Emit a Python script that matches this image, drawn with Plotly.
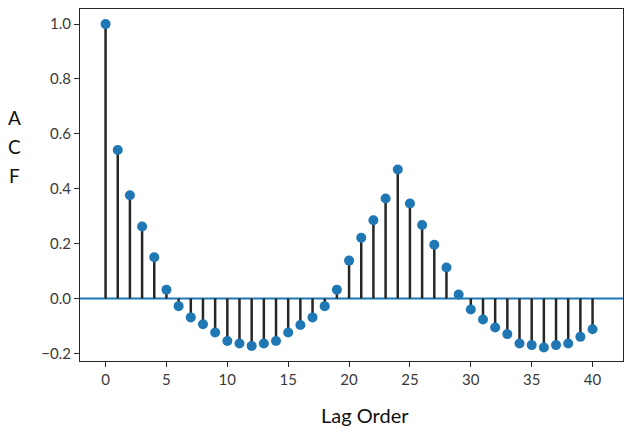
import plotly.graph_objects as go

lags = list(range(41))
acf = [1.0, 0.541, 0.376, 0.262, 0.150, 0.032, -0.028, -0.069, -0.094, -0.124,
       -0.155, -0.164, -0.173, -0.164, -0.155, -0.124, -0.097, -0.069, -0.028, 0.032,
       0.138, 0.221, 0.285, 0.364, 0.470, 0.346, 0.268, 0.196, 0.113, 0.014,
       -0.040, -0.077, -0.106, -0.130, -0.164, -0.170, -0.179, -0.170, -0.164, -0.140,
       -0.112]
x_ticks = [0, 5, 10, 15, 20, 25, 30, 35, 40]
y_ticks = [-0.2, 0.0, 0.2, 0.4, 0.6, 0.8, 1.0]
y_tick_text = ["\u22120.2", "0.0", "0.2", "0.4", "0.6", "0.8", "1.0"]

# stem segments built from the data
sx, sy = [], []
for l, v in zip(lags, acf):
    sx += [l, l, None]
    sy += [0, v, None]

fig = go.Figure()
fig.add_trace(go.Scatter(x=sx, y=sy, mode="lines",
                         line=dict(color="#262626", width=2.5),
                         hoverinfo="skip", showlegend=False))
fig.add_trace(go.Scatter(x=lags, y=acf, mode="markers",
                         marker=dict(color="#1f77b4", size=10),
                         showlegend=False))
fig.add_shape(type="line", xref="paper", x0=0, x1=1, yref="y", y0=0, y1=0,
              line=dict(color="#1f77b4", width=2), layer="below")

fig.update_layout(
    width=629, height=434,
    margin=dict(l=80, r=6, t=9, b=73),
    paper_bgcolor="white", plot_bgcolor="white",
    font=dict(family="Lato, Open Sans, sans-serif", size=15, color="#262626"),
    showlegend=False,
)
fig.update_xaxes(range=[-2.1, 42.5], tickvals=x_ticks, ticks="outside", ticklen=5,
                 tickcolor="#262626", showline=True, linecolor="#262626", linewidth=1,
                 mirror=True, showgrid=False, zeroline=False,
                 tickfont=dict(size=15, color="#3a3a3a"))
fig.update_yaxes(range=[-0.228, 1.055], tickvals=y_ticks, ticktext=y_tick_text,
                 ticks="outside", ticklen=5, tickcolor="#262626",
                 showline=True, linecolor="#262626", linewidth=1, mirror=True,
                 showgrid=False, zeroline=False,
                 tickfont=dict(size=15, color="#3a3a3a"))

fig.add_annotation(text="Lag Order", xref="paper", yref="paper", x=0.525, y=-0.153,
                   yanchor="middle", showarrow=False,
                   font=dict(size=20, color="#111111", family="Lato, Open Sans, sans-serif"))
for i, ch in enumerate(["A", "C", "F"]):
    fig.add_annotation(text=ch, xref="paper", yref="paper", x=-0.12,
                       y=1 - (109 + i * 28.5) / 352, yanchor="middle", xanchor="center",
                       showarrow=False,
                       font=dict(size=19, color="#111111", family="Lato, Open Sans, sans-serif"))

fig.write_html("out.html")
